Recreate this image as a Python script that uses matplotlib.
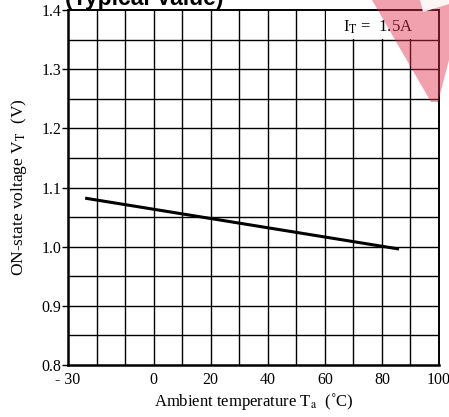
import matplotlib
matplotlib.use("Agg")
import matplotlib.pyplot as plt
from matplotlib.patches import Rectangle, Polygon
import numpy as np

# data
temp = [-24, 86]
vt = [1.082, 0.996]

xticks = [-30, 0, 20, 40, 60, 80, 100]
xticklabels = ["- 30", "0", "20", "40", "60", "80", "100"]
yticks = [0.8, 0.9, 1.0, 1.1, 1.2, 1.3, 1.4]
yticklabels = ["0.8", "0.9", "1.0", "1.1", "1.2", "1.3", "1.4"]

plt.rcParams["font.family"] = ["Liberation Serif", "DejaVu Serif"]
plt.rcParams["mathtext.fontset"] = "stix"

fig = plt.figure(figsize=(4.49, 4.17), dpi=100)
ax = fig.add_axes([68 / 449, 1 - 365 / 417, 371 / 449, 355 / 417])

ax.set_xlim(-30, 100)
ax.set_ylim(0.8, 1.4)

# grid every 10 degC and 0.05 V
for gx in np.arange(-20, 100, 10):
    ax.axvline(gx, color="black", lw=1.0, zorder=0.5)
for gy in np.arange(0.85, 1.4, 0.05):
    ax.axhline(gy, color="black", lw=1.0, zorder=0.5)

ax.set_xticks(xticks)
ax.set_xticklabels(xticklabels, fontsize=11.5)
ax.set_yticks(yticks)
ax.set_yticklabels(yticklabels, fontsize=11.5)
ax.tick_params(axis="x", length=0, pad=5)
ax.tick_params(axis="y", length=4, width=1, pad=1)

for side in ["left", "bottom"]:
    ax.spines[side].set_linewidth(1.8)
for side in ["top", "right"]:
    ax.spines[side].set_linewidth(1.4)

# blank box behind the condition label
ax.add_patch(Rectangle((60.4, 1.3505), 39.5, 0.049, facecolor="white",
                       edgecolor="none", zorder=1))
ax.text(90.8, 1.364, r"I$_{\mathrm{T}}$ =  1.5A", ha="right", va="baseline",
        fontsize=12, zorder=3)

ax.plot(temp, vt, color="black", lw=2.2, solid_capstyle="butt", zorder=2)

ax.set_xlabel(r"Ambient temperature T$_{\mathrm{a}}$  (˚C)", fontsize=12,
              labelpad=2)
ax.set_ylabel(r"ON-state voltage V$_{\mathrm{T}}$  (V)", fontsize=12.5,
              labelpad=9)

fig.text(65 / 449, 1 - 5 / 417, "(Typical Value)", fontsize=16.5,
         fontweight="bold", family="Liberation Sans", ha="left",
         va="baseline")

# red watermark fragment in the corner
wm = Polygon([(372 / 449, 1), (1, 1), (1, 1 - 60 / 417),
              (438 / 449, 1 - 102 / 417), (431 / 449, 1 - 102 / 417)],
             closed=True, transform=fig.transFigure, facecolor="#e0304a",
             alpha=0.45, edgecolor="none", zorder=10)
fig.patches.append(wm)
stripe = Polygon([(420 / 449, 1), (1, 1), (1, 1 - 4 / 417),
                  (423 / 449, 1 - 12 / 417)],
                 closed=True, transform=fig.transFigure, facecolor="white",
                 alpha=0.9, edgecolor="none", zorder=11)
fig.patches.append(stripe)

fig.savefig("out.png", dpi=100)
